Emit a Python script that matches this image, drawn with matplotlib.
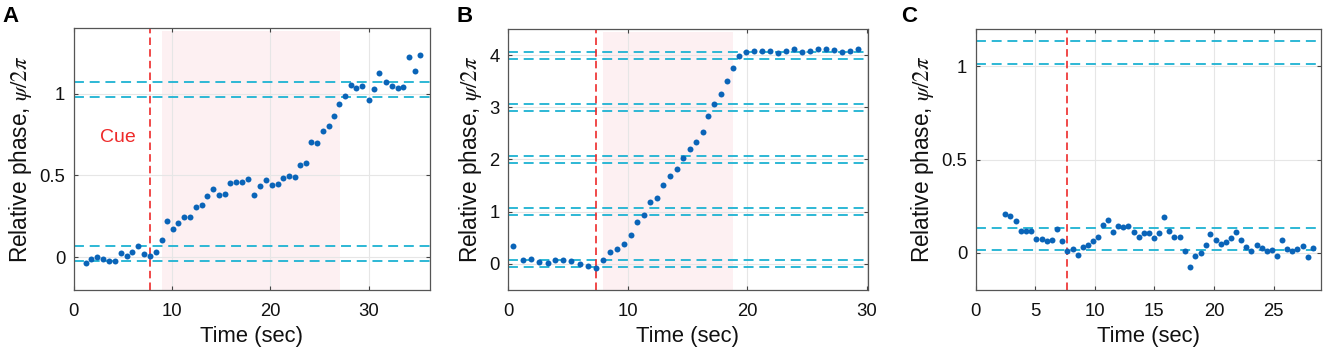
import matplotlib
matplotlib.use("Agg")
import matplotlib.pyplot as plt
from matplotlib.ticker import FixedLocator

plt.rcParams['font.family'] = ['Liberation Sans', 'DejaVu Sans']
plt.rcParams['mathtext.fontset'] = 'stix'

# ---------------- data ----------------
tA = [1.24, 1.81, 2.39, 3.0, 3.61, 4.19, 4.8, 5.41, 5.98, 6.56, 7.2, 7.81, 8.39, 8.97,
      9.48, 10.09, 10.66, 11.24, 11.85, 12.43, 13.04, 13.58, 14.16, 14.77, 15.38, 15.95,
      16.56, 17.14, 17.75, 18.39, 18.97, 19.55, 20.16, 20.77, 21.34, 21.92, 22.53, 23.07,
      23.68, 24.19, 24.77, 25.38, 25.96, 26.5, 27.04, 27.62, 28.2, 28.77, 29.38, 30.03,
      30.57, 31.1, 31.76, 32.37, 32.98, 33.55, 34.1, 34.71, 35.25]
phA = [-0.037, -0.011, 0.0, -0.009, -0.025, -0.021, 0.026, 0.008, 0.03, 0.069, 0.02, 0.01,
       0.034, 0.103, 0.22, 0.175, 0.209, 0.246, 0.248, 0.309, 0.319, 0.374, 0.417, 0.38,
       0.386, 0.455, 0.461, 0.457, 0.48, 0.38, 0.437, 0.47, 0.441, 0.447, 0.482, 0.496,
       0.49, 0.563, 0.573, 0.706, 0.698, 0.773, 0.801, 0.865, 0.938, 0.983, 1.052, 1.032,
       1.044, 0.96, 1.027, 1.123, 1.068, 1.048, 1.036, 1.042, 1.223, 1.137, 1.233]

tB = [0.45, 1.28, 1.92, 2.62, 3.32, 3.96, 4.63, 5.3, 6.0, 6.69, 7.36, 7.98, 8.51, 9.15,
      9.73, 10.29, 10.8, 11.38, 11.88, 12.47, 12.97, 13.56, 14.12, 14.62, 15.2, 15.76,
      16.29, 16.76, 17.26, 17.8, 18.3, 18.8, 19.3, 19.94, 20.59, 21.26, 21.92, 22.59,
      23.24, 23.9, 24.6, 25.27, 25.92, 26.55, 27.22, 27.92, 28.56, 29.23]
phB = [0.343, 0.07, 0.088, 0.036, 0.025, 0.07, 0.07, 0.057, 0.006, -0.038, -0.07, 0.07,
       0.222, 0.279, 0.387, 0.558, 0.794, 0.946, 1.18, 1.27, 1.51, 1.676, 1.815, 2.038,
       2.196, 2.343, 2.527, 2.838, 3.072, 3.257, 3.5, 3.758, 3.981, 4.057, 4.082, 4.076,
       4.076, 4.038, 4.076, 4.108, 4.057, 4.076, 4.114, 4.114, 4.10, 4.051, 4.082, 4.108]

tC = [2.51, 2.93, 3.38, 3.8, 4.24, 4.66, 5.11, 5.55, 5.97, 6.42, 6.81, 7.26, 7.7, 8.15,
      8.57, 8.98, 9.43, 9.86, 10.27, 10.66, 11.08, 11.53, 11.95, 12.4, 12.81, 13.26,
      13.68, 14.1, 14.55, 14.97, 15.39, 15.77, 16.25, 16.67, 17.11, 17.59, 18.03, 18.45,
      18.87, 19.29, 19.68, 20.13, 20.55, 20.97, 21.42, 21.84, 22.26, 22.7, 23.12, 23.57,
      23.99, 24.43, 24.85, 25.29, 25.71, 26.13, 26.58, 27.0, 27.45, 27.87, 28.31]
phC = [0.208, 0.199, 0.17, 0.118, 0.118, 0.118, 0.072, 0.072, 0.064, 0.068, 0.129, 0.064,
       0.009, 0.018, -0.012, 0.031, 0.04, 0.063, 0.084, 0.147, 0.174, 0.111, 0.142, 0.138,
       0.142, 0.111, 0.086, 0.106, 0.106, 0.08, 0.106, 0.19, 0.116, 0.086, 0.086, 0.007,
       -0.075, -0.018, -0.003, 0.04, 0.099, 0.066, 0.048, 0.057, 0.077, 0.109, 0.068,
       0.032, 0.011, 0.04, 0.027, 0.011, 0.014, -0.018, 0.07, 0.018, 0.011, 0.021, 0.036,
       -0.021, 0.027]

# reference (dashed cyan) levels
levelsA = [-0.02, 0.067, 0.98, 1.068]
levelsB = [-0.067, 0.067, 0.933, 1.067, 1.933, 2.067, 2.933, 3.067, 3.933, 4.067]
levelsC = [0.013, 0.133, 1.013, 1.138]

cueA, cueB, cueC = 7.8, 7.36, 7.7
shadeA = (9.0, 27.05)
shadeB = (7.98, 18.8)

xticksA = [0, 10, 20, 30]
xticksB = [0, 10, 20, 30]
xticksC = [0, 5, 10, 15, 20, 25]
yticksA = [0, 0.5, 1]
yticksB = [0, 1, 2, 3, 4]
yticksC = [0, 0.5, 1]
yticklabA = ['0', '0.5', '1']
yticklabC = ['0', '0.5', '1']

# ---------------- style ----------------
DOT = '#0A64B8'
CYAN = '#1DB2D2'
RED = '#EE2A2A'
PINK = '#FDF0F2'

fig = plt.figure(figsize=(13.25, 3.53), dpi=100)

W, H = 1325, 353
def rect(l, r, t, b):
    return [l / W, (H - b) / H, (r - l) / W, (b - t) / H]

axA = fig.add_axes(rect(73.5, 429.5, 28, 290))
axB = fig.add_axes(rect(508, 868, 29, 290))
axC = fig.add_axes(rect(975.5, 1320.7, 29, 290))

def style(ax, xlim, ylim, xt, yt, ytl=None):
    ax.set_xlim(*xlim)
    ax.set_ylim(*ylim)
    ax.xaxis.set_major_locator(FixedLocator(xt))
    ax.yaxis.set_major_locator(FixedLocator(yt))
    ax.set_xticklabels([str(v) for v in xt])
    ax.set_yticklabels(ytl if ytl else [str(v) for v in yt])
    ax.grid(True, color='#e6e6e6', linewidth=0.8, zorder=0)
    ax.set_axisbelow(True)
    ax.tick_params(direction='in', length=3, width=0.8, colors='#444444',
                   labelcolor='#111111', labelsize=13.3, top=True, right=True)
    ax.tick_params(axis='x', pad=9)
    ax.tick_params(axis='y', pad=6)
    for s in ax.spines.values():
        s.set_color('#555555')
        s.set_linewidth(0.9)
    ax.set_xlabel('Time (sec)', fontsize=15.8, color='#111111', labelpad=5)
    ax.set_ylabel(r'Relative phase, $\psi/2\pi$', fontsize=16.3, color='#111111', labelpad=4)

def draw(ax, t, ph, levels, cue, shade=None):
    if shade:
        ax.axvspan(shade[0], shade[1], ymin=0, ymax=0.99, color=PINK, lw=0, zorder=0.5)
    for lv in levels:
        ax.axhline(lv, color=CYAN, lw=1.3, ls=(0, (5.5, 3.2)), zorder=1.5)
    ax.axvline(cue, color=RED, lw=1.2, ls=(0, (4.5, 2.5)), zorder=1.6)
    ax.plot(t, ph, 'o', color=DOT, ms=4.3, mec='none', zorder=3)

draw(axA, tA, phA, levelsA, cueA, shadeA)
style(axA, (0, 36.2), (-0.2, 1.4), xticksA, yticksA, yticklabA)
axA.text(4.5, 0.73, 'Cue', color=RED, fontsize=14, ha='center', va='center')

draw(axB, tB, phB, levelsB, cueB, shadeB)
style(axB, (0, 30.1), (-0.5, 4.5), xticksB, yticksB)

draw(axC, tC, phC, levelsC, cueC)
style(axC, (0, 28.95), (-0.2, 1.2), xticksC, yticksC, yticklabC)

fig.text(2 / W, 1 - 17 / H, 'A', fontsize=16, fontweight='bold', va='center', ha='left')
fig.text(456 / W, 1 - 17 / H, 'B', fontsize=16, fontweight='bold', va='center', ha='left')
fig.text(901 / W, 1 - 17 / H, 'C', fontsize=16, fontweight='bold', va='center', ha='left')

fig.savefig('out.png', dpi=100)
